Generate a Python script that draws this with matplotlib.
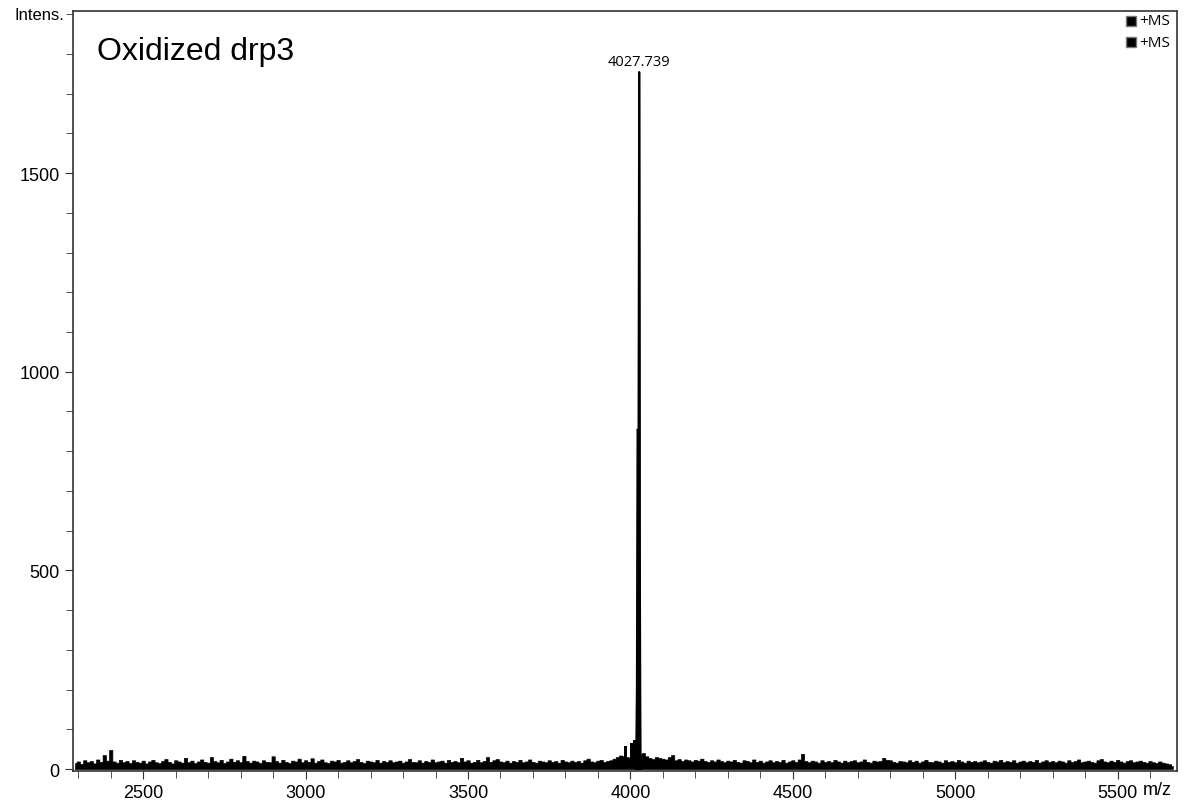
import numpy as np
import matplotlib.pyplot as plt
from matplotlib.ticker import MultipleLocator

# baseline noise, one value every 10 m/z from 2290 to 5670
base_start = 2290
base_step = 10
base_int = [
    15, 19, 13, 22, 17, 20, 14, 24, 18, 35, 21, 48, 19, 16, 23, 17, 20, 15, 22, 18,
    16, 21, 14, 19, 23, 17, 15, 20, 25, 18, 14, 22, 19, 16, 28, 17, 21, 15, 19, 24,
    18, 16, 30, 20, 17, 23, 15, 19, 26, 18, 22, 17, 33, 20, 16, 21, 19, 15, 22, 18,
    17, 32, 20, 16, 23, 18, 15, 21, 19, 26, 17, 22, 18, 27, 16, 20, 24, 17, 15, 21,
    19, 23, 16, 18, 22, 17, 20, 25, 18, 15, 21, 19, 17, 23, 16, 20, 18, 22, 17, 19,
    21, 16, 19, 25, 18, 17, 22, 16, 20, 18, 24, 17, 19, 21, 16, 23, 18, 20, 17, 28,
    19, 22, 16, 18, 23, 17, 20, 30, 18, 22, 25, 19, 17, 21, 16, 20, 18, 23, 17, 19,
    24, 18, 16, 21, 19, 17, 22, 18, 20, 16, 23, 19, 17, 21, 18, 20, 16, 22, 26, 19,
    17, 21, 23, 18, 20, 22, 26, 30, 34, 32, 30, 28, 24, 26, 22, 40, 32, 28, 25, 30,
    28, 26, 24, 30, 35, 22, 25, 20, 24, 22, 19, 23, 21, 26, 20, 18, 22, 19, 24, 20,
    17, 21, 19, 23, 18, 16, 22, 20, 17, 24, 18, 21, 16, 19, 22, 17, 20, 18, 23, 16,
    19, 22, 18, 24, 38, 20, 17, 21, 19, 16, 22, 18, 20, 17, 23, 19, 16, 21, 18, 20,
    22, 17, 19, 24, 18, 16, 21, 19, 20, 28, 23, 22, 18, 16, 20, 19, 17, 22, 18, 21,
    16, 19, 23, 18, 17, 21, 19, 16, 22, 18, 20, 17, 23, 19, 16, 21, 18, 20, 17, 19,
    22, 18, 16, 21, 19, 23, 17, 20, 18, 22, 16, 19, 21, 17, 20, 18, 23, 16, 19, 22,
    18, 20, 17, 21, 19, 16, 22, 18, 20, 24, 17, 19, 21, 18, 16, 22, 25, 19, 17, 21,
    18, 23, 19, 16, 20, 22, 17, 19, 21, 18, 16, 20, 17, 15, 19, 16, 14, 12, 8,
]

# small bars just before the main peak
pre_mz = [3985, 4002, 4012]
pre_int = [58, 65, 72]

# main isotope cluster profile
peak_mz = [4015, 4017, 4019, 4021, 4024, 4026, 4027.739, 4029, 4031, 4034]
peak_int = [30, 40, 210, 855, 850, 1755, 1755, 530, 40, 30]

label_mz = 4027.739
label_int = 1755


def main():
    plt.rcParams['font.family'] = ['Liberation Sans', 'DejaVu Sans']
    fig = plt.figure(figsize=(11.84, 8.03), dpi=100)
    ax = fig.add_axes([0.0617, 0.0386, 0.9324, 0.9464])

    base_mz = base_start + base_step * np.arange(len(base_int))
    ax.fill_between(base_mz, 0, base_int, step='mid', color='black', lw=0.5)

    ax.bar(pre_mz, pre_int, width=9, color='black')
    ax.fill_between(peak_mz, 0, peak_int, color='black', lw=0.8)
    ax.plot(peak_mz, peak_int, color='black', lw=1.0)

    ax.text(label_mz, label_int + 8, "4027.739", ha='center', va='bottom',
            fontsize=10.5, family=['Open Sans', 'DejaVu Sans'])

    ax.set_xlim(2284, 5683)
    ax.set_ylim(-5, 1908)
    ax.set_xticks([2500, 3000, 3500, 4000, 4500, 5000, 5500])
    ax.xaxis.set_minor_locator(MultipleLocator(100))
    ax.set_yticks([0, 500, 1000, 1500])
    ax.yaxis.set_minor_locator(MultipleLocator(100))
    ax.tick_params(which='both', direction='out', labelsize=13, color='#333333')
    ax.tick_params(which='major', length=6)
    ax.tick_params(which='minor', length=5)
    for s in ax.spines.values():
        s.set_color('#333333')
        s.set_linewidth(1.2)

    fig.text(1157 / 1184, 1 - 791 / 803, "m/z", ha='center', va='center', fontsize=13)
    fig.text(0.054, 0.981, "Intens.", ha='right', va='center', fontsize=12)
    ax.text(0.022, 0.947, "Oxidized drp3", transform=ax.transAxes,
            fontsize=23, va='center', ha='left')

    # +MS legend
    for yy in [0.987, 0.959]:
        ax.plot([0.958], [yy], marker='s', ms=6.5, color='black', mec='#777777',
                transform=ax.transAxes, clip_on=False)
        ax.text(0.966, yy, "+MS", transform=ax.transAxes, va='center',
                ha='left', fontsize=11, family=['Open Sans', 'DejaVu Sans'])

    fig.savefig("out.png", dpi=100)


if __name__ == "__main__":
    main()
